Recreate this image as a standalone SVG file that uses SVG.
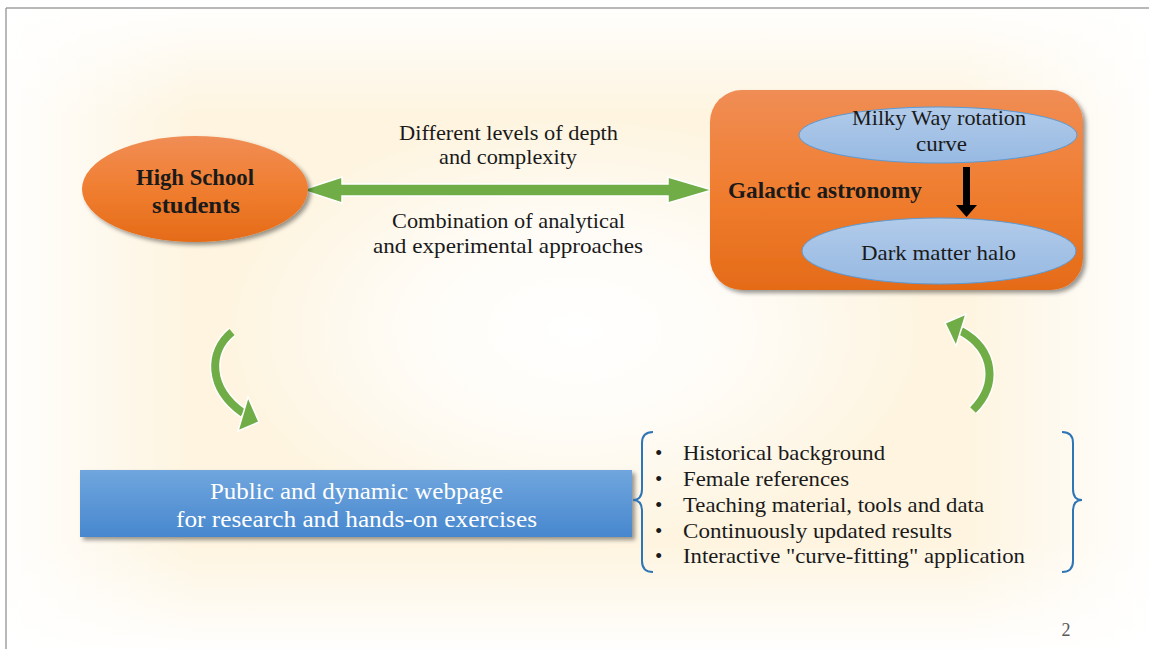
<svg xmlns="http://www.w3.org/2000/svg" width="1149" height="649" viewBox="0 0 1149 649">
<defs>
<radialGradient id="center" cx="0.5" cy="0.5" r="0.5">
<stop offset="0" stop-color="#FFFFFF" stop-opacity="1"/>
<stop offset="0.45" stop-color="#FFFFFF" stop-opacity="0.75"/>
<stop offset="1" stop-color="#FFFFFF" stop-opacity="0"/>
</radialGradient>
<linearGradient id="fadeL" x1="0" y1="0" x2="1" y2="0">
<stop offset="0" stop-color="#FFFFFF" stop-opacity="0.95"/>
<stop offset="1" stop-color="#FFFFFF" stop-opacity="0"/>
</linearGradient>
<linearGradient id="fadeR" x1="1" y1="0" x2="0" y2="0">
<stop offset="0" stop-color="#FFFFFF" stop-opacity="0.95"/>
<stop offset="1" stop-color="#FFFFFF" stop-opacity="0"/>
</linearGradient>
<linearGradient id="fadeT" x1="0" y1="0" x2="0" y2="1">
<stop offset="0" stop-color="#FFFFFF" stop-opacity="0.95"/>
<stop offset="1" stop-color="#FFFFFF" stop-opacity="0"/>
</linearGradient>
<linearGradient id="fadeB" x1="0" y1="1" x2="0" y2="0">
<stop offset="0" stop-color="#FFFFFF" stop-opacity="0.95"/>
<stop offset="1" stop-color="#FFFFFF" stop-opacity="0"/>
</linearGradient>
<linearGradient id="orange" x1="0" y1="0" x2="0" y2="1">
<stop offset="0" stop-color="#F08D55"/>
<stop offset="0.5" stop-color="#F07E30"/>
<stop offset="1" stop-color="#E56B18"/>
</linearGradient>
<linearGradient id="lblue" x1="0" y1="0" x2="0" y2="1">
<stop offset="0" stop-color="#B1CBEA"/>
<stop offset="1" stop-color="#97B9E2"/>
</linearGradient>
<linearGradient id="blue" x1="0" y1="0" x2="0" y2="1">
<stop offset="0" stop-color="#70A6DE"/>
<stop offset="1" stop-color="#4787CE"/>
</linearGradient>
<filter id="sh" x="-10%" y="-10%" width="125%" height="130%">
<feDropShadow dx="3" dy="3" stdDeviation="2" flood-color="#000" flood-opacity="0.4"/>
</filter>
<style>
.t{font-family:"Liberation Serif","Times New Roman",serif;fill:#1a1a1a;}
.b{font-weight:bold;}
.w{fill:#FFFFFF;}
.g{fill:#70AD47;stroke:#FFFFFF;stroke-width:1.5;stroke-linejoin:miter;}
.gs{fill:none;stroke:#70AD47;stroke-width:8;}
.gw{fill:none;stroke:#FFFFFF;stroke-width:11;}
.br{fill:none;stroke:#2E75B6;stroke-width:2;}
</style>
</defs>
<rect x="0" y="0" width="1149" height="649" fill="#FFFFFF"/>
<g id="background">
<rect x="6" y="8" width="1143" height="641" fill="#FEF4DF"/>
<rect x="215" y="110" width="720" height="440" fill="url(#center)"/>
<rect x="6" y="8" width="190" height="641" fill="url(#fadeL)"/>
<rect x="960" y="8" width="189" height="641" fill="url(#fadeR)"/>
<rect x="6" y="8" width="1143" height="110" fill="url(#fadeT)"/>
<rect x="6" y="540" width="1143" height="109" fill="url(#fadeB)"/>
</g>
<line x1="6" y1="8" x2="1149" y2="8" stroke="#A0A0A0" stroke-width="1.5"/>
<line x1="6" y1="8" x2="6" y2="649" stroke="#A0A0A0" stroke-width="1.5"/>

<g id="connectors">
<polygon class="g" points="302,190 342,177 342,184 668,184 668,177 712,190 668,203 668,196 342,196 342,203"/>
<path class="gw" d="M 232,332 C 208,352 208,388 243,413"/>
<path class="gs" d="M 232,332 C 208,352 208,388 243,413"/>
<polygon class="g" points="248,397 259,422 238,431"/>
<path class="gw" d="M 973,410 C 998,385 995,350 961,331"/>
<path class="gs" d="M 973,410 C 998,385 995,350 961,331"/>
<polygon class="g" points="945,323 966,314 956,346"/>
</g>

<g id="labels">
<text class="t" font-size="21" x="399" y="140" textLength="219" lengthAdjust="spacingAndGlyphs">Different levels of depth</text>
<text class="t" font-size="21" x="439" y="164" textLength="138" lengthAdjust="spacingAndGlyphs">and complexity</text>
<text class="t" font-size="21" x="392" y="228" textLength="233" lengthAdjust="spacingAndGlyphs">Combination of analytical</text>
<text class="t" font-size="21" x="373" y="253" textLength="270" lengthAdjust="spacingAndGlyphs">and experimental approaches</text>
</g>

<g id="high-school">
<ellipse cx="195" cy="189" rx="113" ry="53" fill="url(#orange)" filter="url(#sh)"/>
<text class="t b" font-size="24" x="136" y="185" textLength="118" lengthAdjust="spacingAndGlyphs">High School</text>
<text class="t b" font-size="24" x="152" y="213" textLength="88" lengthAdjust="spacingAndGlyphs">students</text>
</g>

<g id="galactic">
<rect x="710" y="90" width="373" height="200" rx="32" ry="32" fill="url(#orange)" filter="url(#sh)"/>
<text class="t b" font-size="24" x="728" y="198" textLength="194" lengthAdjust="spacingAndGlyphs">Galactic astronomy</text>
</g>

<g id="milky-way">
<ellipse cx="938" cy="135" rx="139" ry="28" fill="url(#lblue)" stroke="#5B9BD5" stroke-width="1"/>
<text class="t" font-size="21" x="852" y="125" textLength="174" lengthAdjust="spacingAndGlyphs">Milky Way rotation</text>
<text class="t" font-size="21" x="916" y="151" textLength="51" lengthAdjust="spacingAndGlyphs">curve</text>
</g>

<g id="arrow-down">
<polygon points="963,167 970,167 970,205 977,205 966.5,217 956,205 963,205" fill="#000000"/>
</g>

<g id="dark-matter">
<ellipse cx="939" cy="251" rx="137" ry="33" fill="url(#lblue)" stroke="#5B9BD5" stroke-width="1"/>
<text class="t" font-size="21" x="861" y="260" textLength="155" lengthAdjust="spacingAndGlyphs">Dark matter halo</text>
</g>

<g id="webpage">
<rect x="80" y="470" width="552" height="67" fill="url(#blue)" filter="url(#sh)"/>
<text class="t w" font-size="23" x="210" y="499" textLength="293" lengthAdjust="spacingAndGlyphs">Public and dynamic webpage</text>
<text class="t w" font-size="23" x="176" y="527" textLength="361" lengthAdjust="spacingAndGlyphs">for research and hands-on exercises</text>
</g>

<g id="features">
<path class="br" d="M 653,432 Q 642,432 642,443 L 642,489 Q 642,500 633,500 Q 642,500 642,511 L 642,561 Q 642,572 653,572"/>
<path class="br" d="M 1062,432 Q 1073,432 1073,443 L 1073,489 Q 1073,500 1082,500 Q 1073,500 1073,511 L 1073,561 Q 1073,572 1062,572"/>
<g class="t" font-size="21">
<text x="655" y="460">•</text><text x="683" y="460" textLength="202" lengthAdjust="spacingAndGlyphs">Historical background</text>
<text x="655" y="486">•</text><text x="683" y="486" textLength="166" lengthAdjust="spacingAndGlyphs">Female references</text>
<text x="655" y="512">•</text><text x="683" y="512" textLength="301" lengthAdjust="spacingAndGlyphs">Teaching material, tools and data</text>
<text x="655" y="538">•</text><text x="683" y="538" textLength="269" lengthAdjust="spacingAndGlyphs">Continuously updated results</text>
<text x="655" y="563">•</text><text x="683" y="563" textLength="342" lengthAdjust="spacingAndGlyphs">Interactive "curve-fitting" application</text>
</g>
</g>

<text x="1066" y="636" font-family="'Liberation Serif',serif" font-size="18" fill="#595959" text-anchor="middle">2</text>
</svg>
